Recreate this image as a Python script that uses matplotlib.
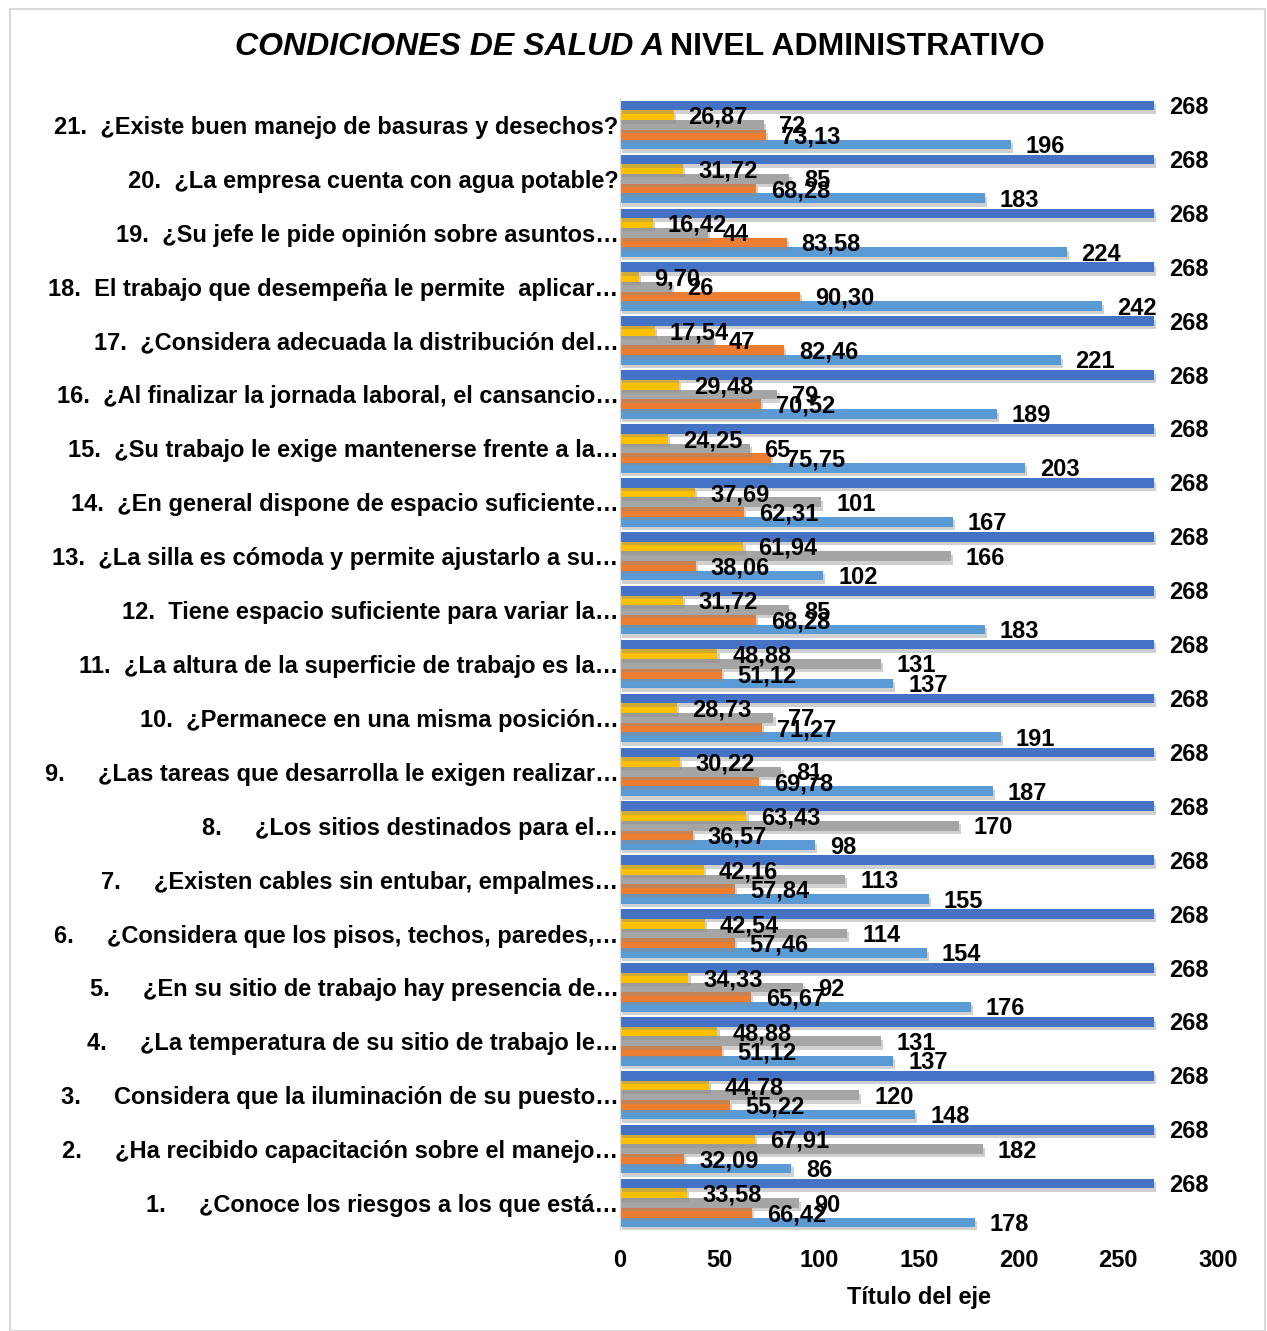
import matplotlib
matplotlib.use("Agg")
import matplotlib.pyplot as plt
import matplotlib.patheffects as pe
from matplotlib.patches import Rectangle
import numpy as np

plt.rcParams['font.family'] = ['Liberation Sans', 'DejaVu Sans']

# Questions, from 1 (bottom) to 21 (top)
categories = [
    "1.     ¿Conoce los riesgos a los que está…",
    "2.     ¿Ha recibido capacitación sobre el manejo…",
    "3.     Considera que la iluminación de su puesto…",
    "4.     ¿La temperatura de su sitio de trabajo le…",
    "5.     ¿En su sitio de trabajo hay presencia de…",
    "6.     ¿Considera que los pisos, techos, paredes,…",
    "7.     ¿Existen cables sin entubar, empalmes…",
    "8.     ¿Los sitios destinados para el…",
    "9.     ¿Las tareas que desarrolla le exigen realizar…",
    "10.  ¿Permanece en una misma posición…",
    "11.  ¿La altura de la superficie de trabajo es la…",
    "12.  Tiene espacio suficiente para variar la…",
    "13.  ¿La silla es cómoda y permite ajustarlo a su…",
    "14.  ¿En general dispone de espacio suficiente…",
    "15.  ¿Su trabajo le exige mantenerse frente a la…",
    "16.  ¿Al finalizar la jornada laboral, el cansancio…",
    "17.  ¿Considera adecuada la distribución del…",
    "18.  El trabajo que desempeña le permite  aplicar…",
    "19.  ¿Su jefe le pide opinión sobre asuntos…",
    "20.  ¿La empresa cuenta con agua potable?",
    "21.  ¿Existe buen manejo de basuras y desechos?",
]

no_count = [178, 86, 148, 137, 176, 154, 155, 98, 187, 191, 137, 183, 102, 167, 203, 189, 221, 242, 224, 183, 196]
no_pct = [66.42, 32.09, 55.22, 51.12, 65.67, 57.46, 57.84, 36.57, 69.78, 71.27, 51.12, 68.28, 38.06, 62.31, 75.75, 70.52, 82.46, 90.30, 83.58, 68.28, 73.13]
si_count = [90, 182, 120, 131, 92, 114, 113, 170, 81, 77, 131, 85, 166, 101, 65, 79, 47, 26, 44, 85, 72]
si_pct = [33.58, 67.91, 44.78, 48.88, 34.33, 42.54, 42.16, 63.43, 30.22, 28.73, 48.88, 31.72, 61.94, 37.69, 24.25, 29.48, 17.54, 9.70, 16.42, 31.72, 26.87]
total = [268] * 21

x_ticks = [0, 50, 100, 150, 200, 250, 300]

# series from bottom to top within a group
series = [
    (no_count, "#5B9BD5", False),
    (no_pct, "#ED7D31", True),
    (si_count, "#A5A5A5", False),
    (si_pct, "#FFC000", True),
    (total, "#4472C4", False),
]

W, H = 1267, 1331
fig = plt.figure(figsize=(W / 100, H / 100), dpi=100)
ax = fig.add_axes([620 / W, 1 - 1230 / H, 598 / W, 1132 / H])

n = len(categories)
y = np.arange(1, n + 1)
h = 0.18
shadow = [pe.SimplePatchShadow(offset=(1.5, -2.5), shadow_rgbFace="#8a8a8a", alpha=0.4), pe.Normal()]

for i, (vals, col, is_pct) in enumerate(series):
    off = (i - 2) * h
    bars = ax.barh(y + off, vals, height=h, color=col, linewidth=0, zorder=2)
    for b in bars:
        b.set_path_effects(shadow)
    for yy, v in zip(y + off, vals):
        txt = f"{v:.2f}".replace(".", ",") if is_pct else f"{int(v)}"
        ax.annotate(txt, xy=(v, yy), xytext=(15, -2), textcoords="offset pixels",
                    ha="left", va="center", fontsize=17, fontweight="bold", color="black", zorder=5)

ax.set_xlim(0, 300)
ax.set_ylim(0.5, n + 0.5)
ax.set_xticks(x_ticks)
ax.set_xticklabels([str(t) for t in x_ticks], fontsize=17, fontweight="bold")
ax.set_yticks(y)
ax.set_yticklabels(categories, fontsize=17, fontweight="bold")
ax.tick_params(axis="both", length=0)
ax.tick_params(axis="x", pad=14)
ax.tick_params(axis="y", pad=1)
for s in ["top", "right", "bottom"]:
    ax.spines[s].set_visible(False)
ax.spines["left"].set_color("#D9D9D9")
ax.set_xlabel("Título del eje", fontsize=17, fontweight="bold", labelpad=10)

# title (partly italic)
fig.text(664 / W, 1 - 47 / H, "CONDICIONES DE SALUD A", ha="right", va="center",
         fontsize=23, fontweight="bold", fontstyle="italic")
fig.text(670 / W, 1 - 47 / H, "NIVEL ADMINISTRATIVO", ha="left", va="center",
         fontsize=23, fontweight="bold")

# outer chart border
fig.patches.append(Rectangle((10 / W, 0), 1255 / W, 1 - 9 / H, transform=fig.transFigure,
                             fill=False, edgecolor="#D9D9D9", linewidth=1.5))

fig.savefig("out.png", dpi=100)
